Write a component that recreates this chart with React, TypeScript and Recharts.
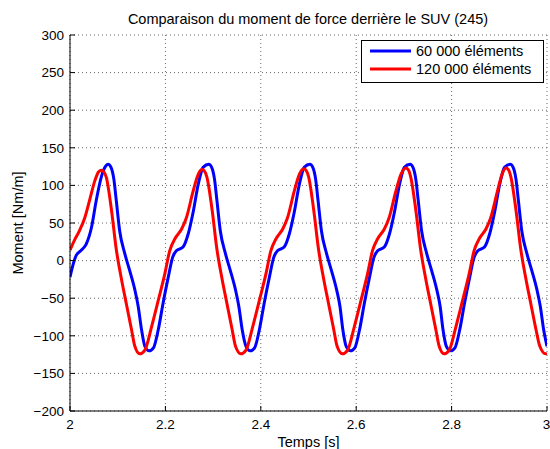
import { LineChart, Line, XAxis, YAxis, CartesianGrid, Legend } from 'recharts'

const FONT = '"Liberation Sans", Arial, Helvetica, sans-serif'

const blueTime = [
  2.0, 2.007, 2.013, 2.024, 2.034, 2.045, 2.055, 2.066, 2.074, 2.08, 2.086, 2.092, 2.097, 2.104, 2.115, 2.125,
  2.136, 2.143, 2.15, 2.157, 2.166, 2.175, 2.185, 2.195, 2.206, 2.215, 2.223, 2.237, 2.248, 2.258, 2.269, 2.279,
  2.291, 2.297, 2.303, 2.308, 2.315, 2.326, 2.336, 2.347, 2.354, 2.361, 2.369, 2.378, 2.387, 2.397, 2.407, 2.418,
  2.427, 2.435, 2.449, 2.46, 2.47, 2.481, 2.491, 2.503, 2.509, 2.515, 2.52, 2.527, 2.538, 2.548, 2.559, 2.566,
  2.572, 2.579, 2.588, 2.597, 2.607, 2.617, 2.628, 2.637, 2.645, 2.659, 2.67, 2.68, 2.691, 2.701, 2.713, 2.719,
  2.725, 2.73, 2.737, 2.748, 2.758, 2.769, 2.776, 2.782, 2.789, 2.798, 2.807, 2.817, 2.827, 2.838, 2.847, 2.855,
  2.869, 2.88, 2.89, 2.901, 2.911, 2.923, 2.929, 2.935, 2.94, 2.947, 2.958, 2.968, 2.979, 2.986, 2.993, 3.0,
]
const blueMoment = [
  -22, -4, 7, 14, 22, 44, 80, 112, 125, 128, 124, 108, 80, 40, 9, -13,
  -39, -61, -92, -114, -120, -116, -92, -57, -22, 4, 13, 18, 36, 64, 102, 124,
  128, 124, 108, 80, 40, 9, -13, -39, -61, -92, -114, -120, -116, -92, -57, -22,
  4, 13, 18, 36, 64, 102, 124, 128, 124, 108, 80, 40, 9, -13, -39, -61,
  -92, -114, -120, -116, -92, -57, -22, 4, 13, 18, 36, 64, 102, 124, 128, 124,
  108, 80, 40, 9, -13, -39, -61, -92, -114, -120, -116, -92, -57, -22, 4, 13,
  18, 36, 64, 102, 124, 128, 124, 108, 80, 40, 9, -13, -39, -61, -92, -114,
]

const redTime = [
  2.0, 2.01, 2.02, 2.031, 2.041, 2.052, 2.06, 2.066, 2.071, 2.076, 2.087, 2.097, 2.108, 2.118, 2.129, 2.136,
  2.146, 2.157, 2.171, 2.185, 2.199, 2.209, 2.22, 2.234, 2.244, 2.258, 2.269, 2.277, 2.282, 2.287, 2.298, 2.308,
  2.319, 2.329, 2.34, 2.347, 2.358, 2.369, 2.383, 2.397, 2.411, 2.421, 2.432, 2.446, 2.456, 2.47, 2.481, 2.49,
  2.495, 2.5, 2.511, 2.521, 2.532, 2.542, 2.553, 2.56, 2.571, 2.582, 2.596, 2.61, 2.624, 2.634, 2.645, 2.659,
  2.669, 2.683, 2.694, 2.704, 2.709, 2.714, 2.725, 2.735, 2.746, 2.756, 2.767, 2.774, 2.784, 2.795, 2.809, 2.823,
  2.837, 2.847, 2.858, 2.872, 2.882, 2.896, 2.906, 2.914, 2.919, 2.924, 2.935, 2.945, 2.956, 2.966, 2.977, 2.985,
  2.997, 3.0,
]
const redMoment = [
  14, 28, 40, 57, 80, 106, 118, 120, 118, 111, 67, 15, -25, -57, -92, -114,
  -124, -119, -88, -53, -17, 13, 29, 42, 57, 92, 115, 121, 119, 111, 67, 15,
  -25, -57, -92, -114, -124, -119, -88, -53, -17, 13, 29, 42, 57, 92, 115, 122,
  120, 112, 67, 15, -25, -57, -92, -114, -124, -119, -88, -53, -17, 13, 29, 42,
  57, 92, 115, 123, 121, 112, 67, 15, -25, -57, -92, -114, -124, -119, -88, -53,
  -17, 13, 29, 42, 57, 92, 115, 123, 121, 112, 67, 15, -25, -57, -92, -114,
  -124, -123,
]

const xTicks = [2, 2.2, 2.4, 2.6, 2.8, 3]
const yTicks = [-200, -150, -100, -50, 0, 50, 100, 150, 200, 250, 300]
const seriesNames = ['60 000 éléments', '120 000 éléments']

const blueData = blueTime.map((t, i) => ({ t, v: blueMoment[i] }))
const redData = redTime.map((t, i) => ({ t, v: redMoment[i] }))

const fmtX = (v: number) => String(Number(v.toFixed(1)))
const fmtY = (v: number) => (v < 0 ? `\u2212${Math.abs(v)}` : String(v))

const tickStyle = { fill: '#000', fontSize: 13.5, fontFamily: FONT }

const MatlabLegend = ({ payload }: { payload?: { value: string; color: string }[] }) => {
  // keep the order the series are declared in
  const items = [...(payload ?? [])].sort((a, b) => seriesNames.indexOf(a.value) - seriesNames.indexOf(b.value))
  return (
    <div
      style={{
        width: 181,
        height: 40,
        border: '1px solid #000',
        background: '#fff',
        fontFamily: FONT,
        fontSize: 14.5,
        boxSizing: 'content-box',
        paddingTop: 1,
      }}
    >
      {items.map((p) => (
        <div key={p.value} style={{ display: 'flex', alignItems: 'center', height: 18, lineHeight: '18px' }}>
          <svg width={54} height={18}>
            <line x1={8} x2={49} y1={9} y2={9} stroke={p.color} strokeWidth={3} />
          </svg>
          <span style={{ color: '#000' }}>{p.value}</span>
        </div>
      ))}
    </div>
  )
}

export default function App() {
  return (
    <div style={{ position: 'absolute', left: 0, top: 0, width: 550, height: 449, background: '#fff' }}>
      <div
        style={{
          position: 'absolute',
          left: 70,
          width: 476,
          top: 10,
          textAlign: 'center',
          fontFamily: FONT,
          fontSize: 14.5,
          lineHeight: '18px',
          color: '#000',
        }}
      >
        Comparaison du moment de force derrière le SUV (245)
      </div>
      <LineChart width={550} height={449} margin={{ top: 35, right: 3, bottom: 0, left: 0 }}>
        <CartesianGrid stroke="#666" strokeDasharray="1 3" />
        <XAxis
          dataKey="t"
          type="number"
          domain={[2, 3]}
          ticks={xTicks}
          tickFormatter={fmtX}
          height={38}
          tickSize={-5}
          tickMargin={13}
          tick={tickStyle}
          stroke="#000"
          allowDataOverflow
          label={{ value: 'Temps [s]', position: 'insideBottom', offset: 2, fill: '#000', fontSize: 14.5, fontFamily: FONT }}
        />
        <XAxis
          xAxisId="top"
          orientation="top"
          type="number"
          domain={[2, 3]}
          ticks={xTicks}
          height={0}
          tickSize={-5}
          tick={false}
          stroke="#000"
        />
        <YAxis
          type="number"
          domain={[-200, 300]}
          ticks={yTicks}
          tickFormatter={fmtY}
          width={70}
          tickSize={-5}
          tickMargin={11}
          tick={tickStyle}
          stroke="#000"
          allowDataOverflow
          label={{
            value: 'Moment [Nm/m]',
            angle: -90,
            position: 'insideLeft',
            offset: 18,
            style: { textAnchor: 'middle' },
            fill: '#000',
            fontSize: 14.5,
            fontFamily: FONT,
          }}
        />
        <YAxis
          yAxisId="right"
          orientation="right"
          type="number"
          domain={[-200, 300]}
          ticks={yTicks}
          width={0}
          tickSize={-5}
          tick={false}
          stroke="#000"
        />
        <Legend
          verticalAlign="middle"
          align="center"
          layout="vertical"
          wrapperStyle={{ top: 40, left: 361, width: 183 }}
          content={(props: any) => <MatlabLegend payload={props.payload} />}
        />
        <Line
          data={blueData}
          dataKey="v"
          name={seriesNames[0]}
          type="monotone"
          stroke="#0000ff"
          strokeWidth={3}
          dot={false}
          isAnimationActive={false}
        />
        <Line
          data={redData}
          dataKey="v"
          name={seriesNames[1]}
          type="monotone"
          stroke="#ff0000"
          strokeWidth={3}
          dot={false}
          isAnimationActive={false}
        />
      </LineChart>
    </div>
  )
}
